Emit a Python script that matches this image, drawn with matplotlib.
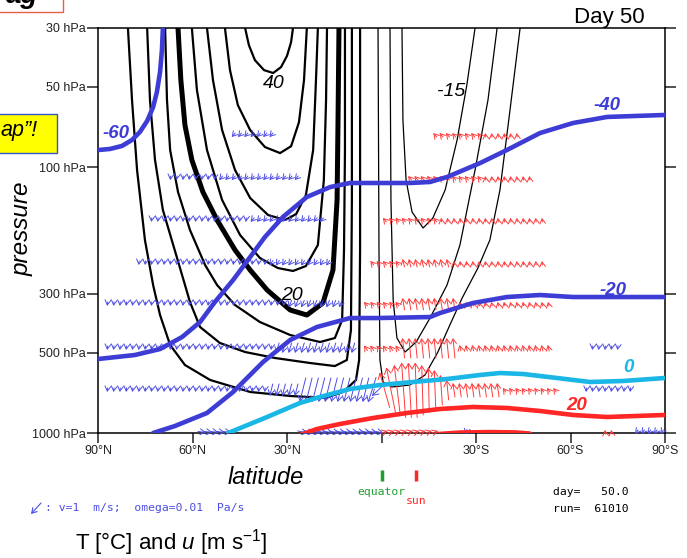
import numpy as np
import matplotlib.pyplot as plt
from matplotlib import transforms
from matplotlib.patches import Rectangle

plt.rcParams['font.family'] = ['Liberation Sans', 'DejaVu Sans']
plt.rcParams['mathtext.fontset'] = 'custom'
plt.rcParams['mathtext.rm'] = 'Liberation Sans'
plt.rcParams['mathtext.it'] = 'Liberation Sans:italic'

#---------------------------------- data --------------------------------------
lat_ticks = [90, 60, 30, 0, -30, -60, -90]
lat_ticklabels = ['90°N', '60°N', '30°N', '', '30°S', '60°S', '90°S']
p_ticks = [30, 50, 100, 300, 500, 1000]
p_ticklabels = ['30 hPa', '50 hPa', '100 hPa', '300 hPa', '500 hPa', '1000 hPa']

day = 50.0
run = 61010
sun_lat = -11

# zonal wind u [m/s]: contour lines as (lat, hPa)
u40_lat = [43.3, 42.1, 40.2, 37.3, 34.4, 31.9, 30.0, 28.7, 28.1]
u40_p = [30, 34.8, 39.6, 43.2, 44.3, 42.1, 38.2, 33.9, 30]
u35_lat = [49.7, 48.1, 45.6, 41.7, 37.0, 32.2, 28.7, 26.2, 24.6, 23.7]
u35_p = [30, 43.2, 58.5, 72.6, 84.1, 88.6, 83.5, 67.8, 47.1, 30]
u30_lat = [55.4, 53.5, 50.6, 46.5, 41.7, 36.0, 30.6, 27.1, 24.0, 21.7, 20.8, 20.2]
u30_p = [30, 47.1, 72.6, 102.6, 130.7, 151.5, 158.2, 150.2, 127.4, 86.3, 47.1, 30]
u25_lat = [60.2, 58.6, 55.4, 50.6, 44.9, 38.6, 32.9, 28.1, 24.0, 20.2, 18.3, 17.6, 17.3]
u25_p = [30, 51.3, 86.3, 133.0, 180.1, 219.8, 239.7, 245.9, 235.6, 196.4, 111.9, 56.0, 30]
u20_lat = [64.6, 63.7, 62.4, 60.2, 56.7, 52.2, 46.5, 41.7, 36.3, 29.0, 23.7, 18.6,
           15.4, 14.1, 13.8, 13.5]
u20_p = [30, 47.1, 69.5, 94.1, 124.1, 158.2, 205.1, 243.9, 290.0, 344.7, 360.1, 324.5,
         243.9, 133.0, 66.5, 30]
u15_lat = [68.7, 68.1, 67.1, 64.6, 60.8, 56.0, 52.2, 46.5, 38.6, 29.0, 19.5, 14.8,
           12.5, 11.9, 11.6, 11.6]
u15_p = [30, 56.0, 86.3, 124.1, 172.5, 233.5, 277.7, 330.2, 382.6, 428.1, 454.9, 439.3,
         376.0, 205.1, 86.3, 30]
u10_lat = [74.4, 73.5, 71.9, 69.4, 64.9, 60.8, 57.6, 51.3, 43.3, 33.8, 22.7, 14.8,
           11.0, 9.7, 9.4, 9.4]
u10_p = [30, 56.0, 94.1, 145.0, 219.8, 321.7, 399.5, 458.7, 496.0, 522.4, 545.5, 560.1,
         531.5, 410.0, 133.0, 30]
u5_lat = [80.5, 79.2, 77.6, 75.1, 72.5, 70.3, 67.1, 62.4, 54.4, 41.7, 29.0, 17.9,
          12.2, 8.1, 7.1, 6.8, 6.8]
u5_p = [30, 56.0, 102.6, 188.1, 277.7, 360.1, 466.8, 555.0, 631.9, 701.0, 725.7, 738.4,
        701.0, 631.9, 531.5, 205.1, 30]
um15_lat = [-6.5, -6.8, -7.8, -9.7, -13.2, -16.3, -20.2, -24.0, -27.1, -29.7]
um15_p = [30, 66.5, 111.9, 147.6, 169.5, 155.5, 122.0, 79.1, 49.1, 30]
um10_lat = [-2.7, -3.0, -3.7, -4.9, -7.5, -11.0, -15.4, -20.8, -24.9, -29.7, -33.8, -36.7]
um10_p = [30, 133.0, 316.2, 439.3, 496.0, 454.9, 369.6, 277.7, 196.4, 102.6, 56.0, 30]
um5_lat = [1.1, 0.8, 0.5, -0.5, -3.3, -9.0, -13.8, -17.9, -21.7, -25.6, -30.6, -34.4,
           -37.6, -40.8, -44.0]
um5_p = [30, 205.1, 531.5, 643.0, 671.4, 659.9, 605.2, 496.0, 392.6, 310.8, 239.7, 188.1,
         122.0, 61.0, 30]

# temperature T [deg C] isotherms (lat, hPa)
tm60_lat = [90, 86.2, 82.4, 79.2, 76.7, 74.4, 72.5, 71.3, 70.3, 69.7, 69.4]
tm60_p = [86.3, 85.5, 83.3, 79.1, 73.8, 67.1, 59.5, 52.2, 43.9, 36.3, 30]
tm40_lat = [90, 78.3, 70.3, 63.3, 57.6, 52.9, 47.1, 41.7, 37.0, 31.3, 23.7, 16.3, 10.0,
            -9.0, -15.4, -20.8, -31.3, -39.8, -50.3, -60.8, -71.6, -90]
tm40_p = [527.0, 509.0, 483.3, 435.6, 382.6, 321.7, 265.9, 217.9, 183.2, 154.1, 129.6,
          118.9, 114.8, 114.8, 113.8, 109.0, 96.6, 86.3, 74.5, 68.3, 64.8, 63.7]
tm20_lat = [72.5, 65.6, 55.4, 47.1, 37.6, 29.0, 20.5, 10.0, 1.4, -15.4, -18.6, -29.0,
            -39.8, -50.3, -60.8, -90]
tm20_p = [1000, 941.5, 840.9, 701.0, 540.8, 447.0, 399.5, 369.6, 369.6, 366.4, 353.8,
          324.5, 308.1, 302.8, 308.1, 308.1]
t0_lat = [48.7, 36.3, 25.9, 19.5, 10.0, 0.5, -10.0, -20.8, -31.3, -37.6, -44.9, -55.7,
          -66.2, -76.7, -90]
t0_p = [1000, 870.6, 771.1, 732.0, 683.1, 659.9, 643.0, 626.5, 605.2, 594.9, 600.0,
        621.1, 643.0, 637.4, 621.1]
t20_lat = [26.8, 20.5, 13.2, 2.7, -8.1, -18.6, -29.0, -39.8, -50.3, -60.8, -71.6, -90]
t20_p = [1026, 966.0, 925.0, 878.2, 840.9, 812.2, 798.3, 805.2, 826.4, 855.5, 870.6, 855.5]
t25_lat = [-17.6, -24.9, -34.4, -42.4, -47.1]
t25_p = [1010, 996, 992, 995, 1005]

# (v, omega) wind vectors, per model level: (lat from, lat to, v [m/s], omega [Pa/s])
vec_levels = [75.8, 110, 158, 229.5, 327, 479, 689, 991]
vec_75 = [(47, 35, 0.35, 0.004), (-17, -31, 0.35, -0.004), (-33, -43, 0.05, -0.004)]
vec_110 = [(67, 53, 0.05, 0.004), (51, 27, 0.35, 0.004),
           (-9, -31, 0.35, -0.004), (-33, -47, 0.05, -0.004)]
vec_158 = [(73, 43, 0.05, 0.004), (41, 19, 0.35, 0.004),
           (-1, -17, 0.35, -0.004), (-19, -51, 0.05, -0.004)]
vec_230 = [(77, 37, 0.05, 0.004), (35, 17, 0.35, 0.005), (3, -5, 0.35, -0.004),
           (-7, -21, 0.2, -0.008), (-23, -51, 0.05, -0.004)]
vec_330 = [(87, 31, 0.05, 0.004), (29, 13, 0.3, 0.007), (5, -5, 0.35, -0.004),
           (-7, -23, 0.2, -0.012), (-25, -53, 0.1, -0.004)]
vec_480 = [(87, 35, 0.05, 0.004), (33, 9, 0.3, 0.010), (5, -5, 0.35, -0.005),
           (-7, -23, 0.2, -0.02), (-25, -53, 0.15, -0.006), (-67, -75, 0.05, 0.004)]
vec_690 = [(87, 37, 0.05, 0.004), (35, 27, 0.3, 0.012), (25, 5, 0.6, 0.024),
           (-23, -37, 0.2, -0.014), (-39, -55, 0.3, -0.004), (-65, -79, 0.05, 0.004)]
vec_990 = [(57, 49, -0.8, 0.001), (25, 1, -1.0, 0.002), (-1, -17, -0.6, -0.002),
           (-27, -27, 0.1, 0.005), (-71, -73, 0.05, -0.004), (-81, -89, 0.3, 0.004)]
# strong overturning near the sun at 690 hPa
core_lat = [3, 1, -1, -3, -5, -7, -9, -11, -13, -15, -17, -19, -21]
core_v = [0.8, 1.3, 1.0, 0.9, 0.6, 0.4, 0.3, 0.2, 0.15, 0.1, 0.15, 0.2, 0.2]
core_om = [0.025, 0.012, -0.035, -0.045, -0.05, -0.055, -0.055, -0.055, -0.05,
           -0.045, -0.04, -0.03, -0.02]

#------------------------------- styling --------------------------------------
T_BLUE = '#3d3dd6'
T_CYAN = '#19b6e6'
T_RED = '#ff2626'
V_BLUE = '#4c4ce4'
V_RED = '#ff3a3a'
GREEN = '#1f9e2e'
PX_V = 10.0      # pixels for v = 1 m/s
PX_OM = 10.0     # pixels for omega = 0.01 Pa/s

fig = plt.figure(figsize=(6.87, 5.58), dpi=100)
ax = fig.add_axes([98/687, 1 - 433/558, 567/687, 405/558])
ax.set_yscale('log')
ax.set_xlim(90, -90)
ax.set_ylim(1000, 30)
ax.yaxis.set_minor_locator(plt.NullLocator())
ax.set_yticks(p_ticks)
ax.set_yticklabels(p_ticklabels)
ax.set_xticks(lat_ticks)
ax.set_xticklabels(lat_ticklabels)
ax.tick_params(axis='y', left=True, right=True, direction='out', length=8, width=1.1,
               labelsize=9, pad=1, colors='#222222')
ax.tick_params(axis='x', direction='out', length=7, width=1.1, labelsize=9, pad=2,
               colors='#222222')
for s in ax.spines.values():
    s.set_linewidth(1.1)

#------------------------------ u contours ------------------------------------
for lat, p, lw in [(u40_lat, u40_p, 1.6), (u35_lat, u35_p, 1.6), (u30_lat, u30_p, 1.6),
                   (u25_lat, u25_p, 1.6), (u20_lat, u20_p, 3.6), (u15_lat, u15_p, 1.6),
                   (u10_lat, u10_p, 1.6), (u5_lat, u5_p, 1.6),
                   (um15_lat, um15_p, 0.9), (um10_lat, um10_p, 0.9), (um5_lat, um5_p, 0.9)]:
    ax.plot(lat, p, color='black', lw=lw, solid_joinstyle='round', zorder=2)

ax.text(34.1, 48.7, '40', fontsize=14, style='italic', ha='center', va='center', zorder=3)
ax.text(28.4, 305, '20', fontsize=14, style='italic', ha='center', va='center', zorder=3)
ax.text(-22.1, 51.8, '-15', fontsize=14, style='italic', ha='center', va='center', zorder=3)

#------------------------------- vectors --------------------------------------
def draw_vec(lat, p, v, om, ms=7):
    color = V_BLUE if om > 0 else V_RED
    dx = -v * PX_V
    dy = -om / 0.01 * PX_OM
    head = transforms.offset_copy(ax.transData, x=dx / 2, y=dy / 2, units='dots')
    tail = transforms.offset_copy(ax.transData, x=-dx / 2, y=-dy / 2, units='dots')
    ax.annotate('', xy=(lat, p), xycoords=head, xytext=(lat, p), textcoords=tail,
                arrowprops=dict(arrowstyle='->,head_length=0.5,head_width=0.3',
                                color=color, lw=0.7, shrinkA=0, shrinkB=0,
                                mutation_scale=ms), zorder=4)

for lev, segs in zip(vec_levels, [vec_75, vec_110, vec_158, vec_230, vec_330,
                                  vec_480, vec_690, vec_990]):
    for lat_a, lat_b, v, om in segs:
        for lat in np.arange(lat_a, lat_b - 1, -2):
            draw_vec(lat, lev, v, om)

for lat, v, om in zip(core_lat, core_v, core_om):
    draw_vec(lat, 689, v, om, ms=8)

#------------------------------ isotherms -------------------------------------
for lat, p, c in [(tm60_lat, tm60_p, T_BLUE), (tm40_lat, tm40_p, T_BLUE),
                  (tm20_lat, tm20_p, T_BLUE), (t0_lat, t0_p, T_CYAN),
                  (t20_lat, t20_p, T_RED), (t25_lat, t25_p, T_RED)]:
    ax.plot(lat, p, color=c, lw=3.3, solid_capstyle='round', solid_joinstyle='round',
            zorder=5)

tlab = dict(fontsize=13.5, fontweight='bold', style='italic', ha='center', va='center',
            zorder=6)
ax.text(84.4, 74.5, '-60', color=T_BLUE, **tlab)
ax.text(-71.6, 58.9, '-40', color=T_BLUE, **tlab)
ax.text(-73.5, 290, '-20', color=T_BLUE, **tlab)
ax.text(-78.3, 569.6, '0', color=T_CYAN, **tlab)
ax.text(-62.1, 784.9, '20', color=T_RED, **tlab)

#------------------------------ annotations -----------------------------------
under = transforms.blended_transform_factory(ax.transData, ax.transAxes)
ax.plot([0, 0], [-0.091, -0.119], transform=under, color=GREEN, lw=2.5, clip_on=False,
        solid_capstyle='butt')
ax.text(0, -0.146, 'equator', transform=under, color=GREEN, ha='center', va='center',
        family='DejaVu Sans Mono', fontsize=8.2)
ax.plot([sun_lat, sun_lat], [-0.091, -0.119], transform=under, color=T_RED, lw=2.5,
        clip_on=False, solid_capstyle='butt')
ax.text(sun_lat, -0.168, 'sun', transform=under, color=T_RED, ha='center', va='center',
        family='DejaVu Sans Mono', fontsize=8.2)

fig.text(266/687, 1 - 478/558, 'latitude', fontsize=17, style='italic', ha='center',
         va='center')
fig.text(22/687, 1 - 229/558, 'pressure', fontsize=17.5, style='italic', rotation=90,
         ha='center', va='center')
fig.text(645/687, 1 - 17/558, 'Day 50', fontsize=16, ha='right', va='center')
fig.text(553/687, 1 - 492/558, f'day= {day:6.1f}', family='DejaVu Sans Mono',
         fontsize=8.2, va='center')
fig.text(553/687, 1 - 509/558, f'run= {run:6d}', family='DejaVu Sans Mono',
         fontsize=8.2, va='center')
ax.annotate('', xy=(31, 558 - 514), xycoords='figure pixels', xytext=(41, 558 - 503),
            textcoords='figure pixels',
            arrowprops=dict(arrowstyle='->,head_length=0.5,head_width=0.3', color=V_BLUE,
                            lw=0.8, shrinkA=0, shrinkB=0, mutation_scale=7))
fig.text(45/687, 1 - 508/558, ': v=1  m/s;  omega=0.01  Pa/s', family='DejaVu Sans Mono',
         fontsize=8.2, color=V_BLUE, va='center')
fig.text(75/687, 1 - 543/558, r'T [°C] and $\it{u}$ [m s$^{-1}$]', fontsize=16,
         va='center')

# slide overlays cut by the frame
fig.patches.append(Rectangle((-3/687, 1 - 12/558), 66/687, 0.05, transform=fig.transFigure,
                             facecolor='white', edgecolor='#e8604a', lw=1))
fig.text(6/687, 1 - 3/558, 'ag', fontsize=20, fontweight='bold', style='italic',
         va='baseline')
fig.patches.append(Rectangle((-3/687, 1 - 153/558), 60/687, 39/558, transform=fig.transFigure,
                             facecolor='#ffff00', edgecolor='#3355cc', lw=1))
fig.text(1/687, 1 - 131/558, 'ap\u201d!', fontsize=15.5, style='italic', va='center')

fig.savefig('out.png', dpi=100)
